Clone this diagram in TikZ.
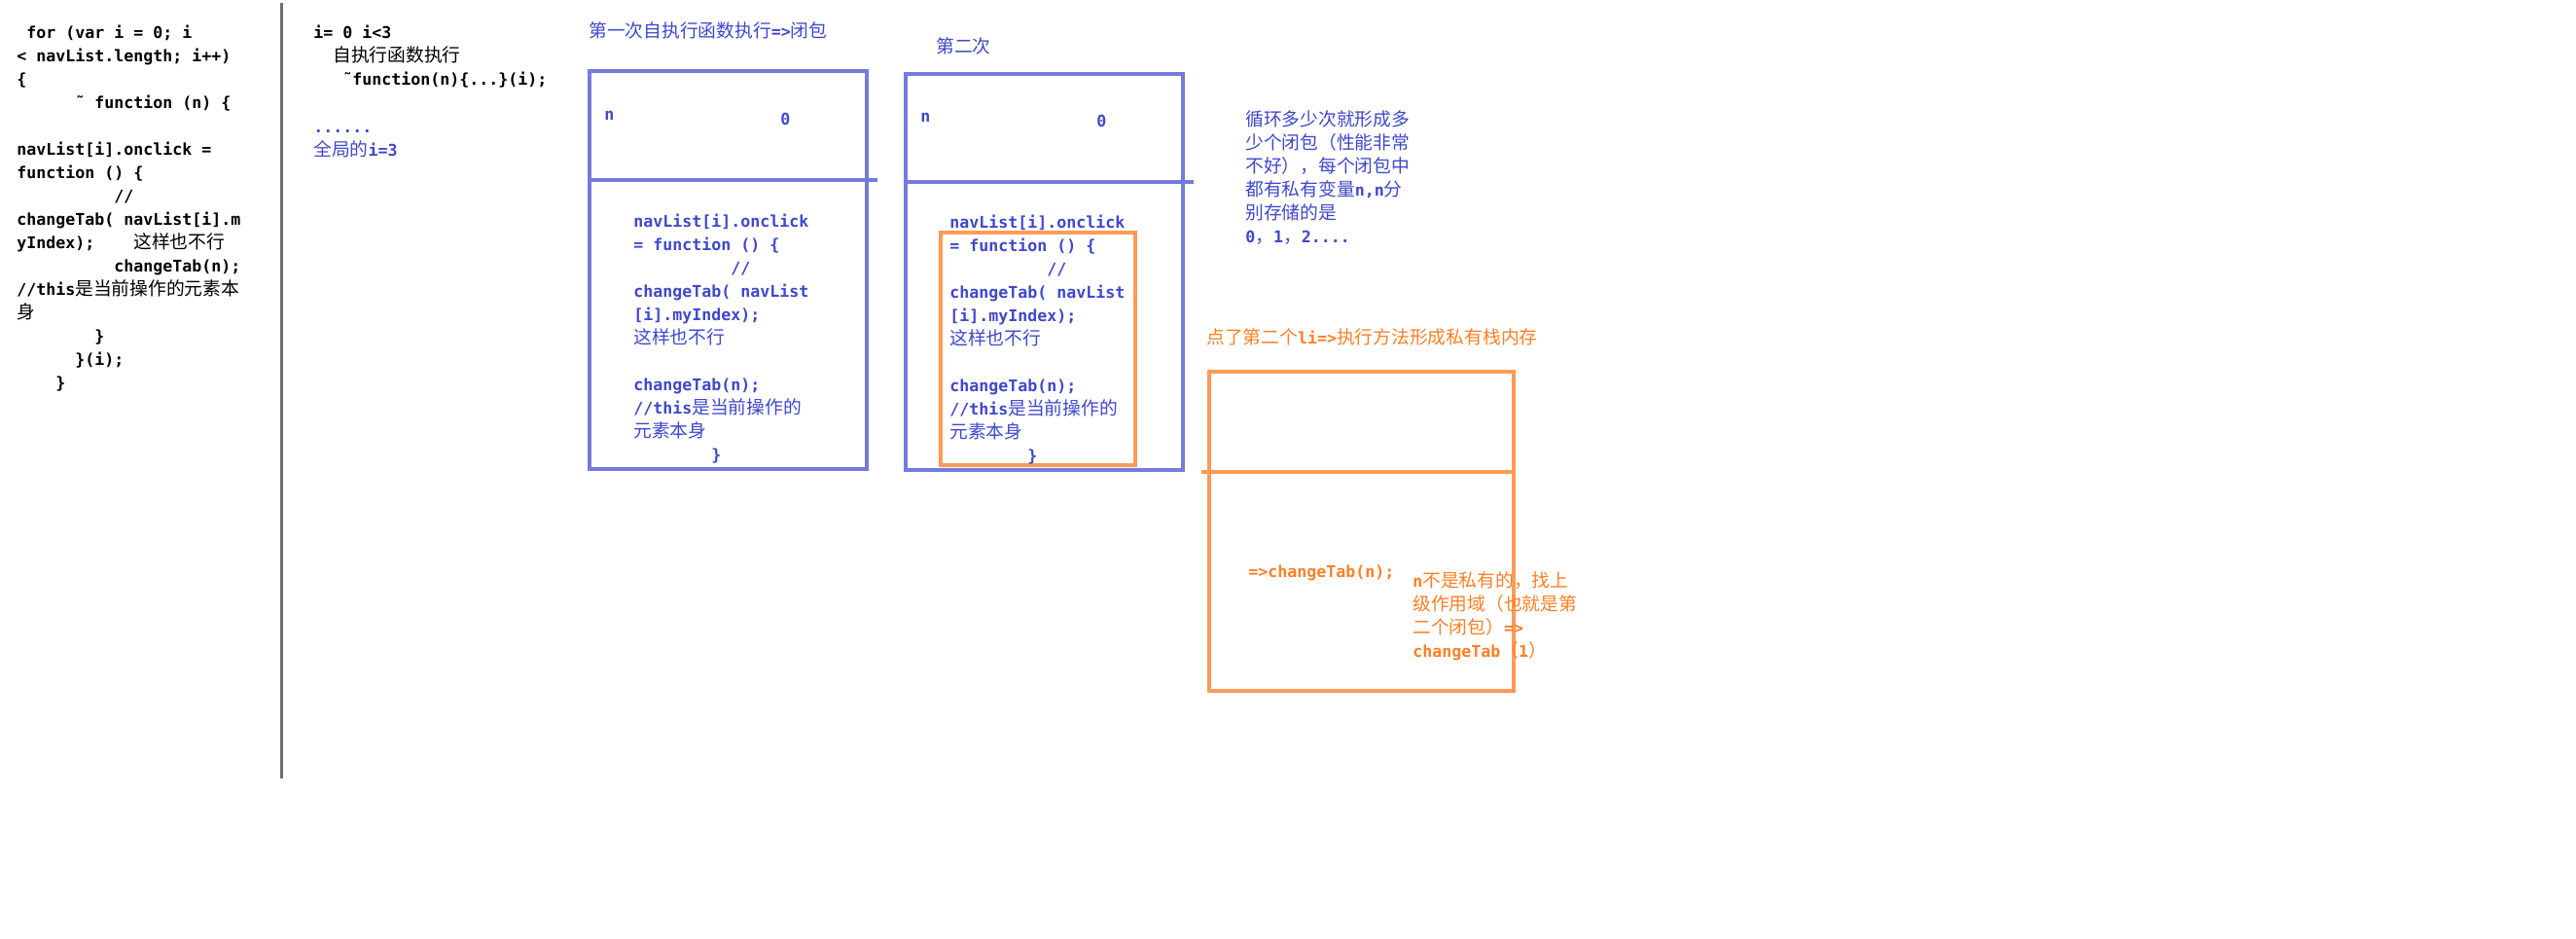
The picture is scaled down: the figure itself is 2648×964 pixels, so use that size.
\documentclass[tikz,border=0pt]{standalone}
\usepackage{fontspec}
\newfontfamily\mono{DejaVu Sans Mono}
\newfontfamily\cjk{Noto Sans CJK SC}[Scale=1.13]
\newcommand\zh[1]{{\cjk\mdseries #1}}
\newlength\cw
\setlength\cw{4.997pt}
\newcommand\ind[1]{\hspace*{#1\cw}}
\newcommand\fst{\rule{0pt}{8pt}}
\definecolor{pblue}{HTML}{3F48CC}
\definecolor{porange}{HTML}{FF7F27}
\definecolor{vgray}{HTML}{6E6E6E}
\tikzset{
  txt/.style={anchor=north west, inner sep=0pt, align=left,
    font=\mono\bfseries\fontsize{8.3}{12}\selectfont},
  one/.style={anchor=base west, inner sep=0pt,
    font=\mono\bfseries\fontsize{8.3}{12}\selectfont},
  blk/.style={txt, text=black},
  blu/.style={txt, text=pblue},
  org/.style={txt, text=porange},
  bbox/.style={draw=pblue!72, line width=1.6pt},
  obox/.style={draw=porange!78, line width=1.6pt},
}
\begin{document}
\begin{tikzpicture}[x=0.5pt,y=-0.5pt]
\fill[white] (0,0) rectangle (2648,964);
\path[use as bounding box] (0,0) rectangle (2648,964);

% separator
\draw[vgray, line width=1.5pt] (289,3) -- (289,800);

% left code
\node[blk] (code) at (17,23) {\fst\ind{1}for (var i = 0; i\\
< navList.length; i++)\\
\{\\
\ind{6}˜ function (n) \{\\
\mbox{}\\
navList[i].onclick =\\
function () \{\\
\ind{10}//\\
changeTab( navList[i].m\\
yIndex);\ind{4}\zh{这样也不行}\\
\ind{10}changeTab(n);\\
//this\zh{是当前操作的元素本}\\
\zh{身}\\
\ind{8}\}\\
\ind{6}\}(i);\\
\ind{4}\}};

% middle notes
\node[blk] (mid) at (322,23) {\fst i= 0 i<3\\
\ind{2}\zh{自执行函数执行}\\
\ind{3}˜function(n)\{...\}(i);};
\node[blu] (glob) at (322,120) {\fst......\\
\zh{全局的}i=3};

% box 1
\node[blu] (t1) at (605,22) {\fst\zh{第一次自执行函数执行}=>\zh{闭包}};
\draw[bbox] (606,73) rectangle (891,482);
\draw[bbox] (606,185) -- (902,185);
\node[one, text=pblue] (n1) at (621,123) {n};
\node[one, text=pblue] (v1) at (802,128) {0};
\node[blu] (c1) at (651,217) {\fst navList[i].onclick\\
= function () \{\\
\ind{10}//\\
changeTab( navList\\
{[}i].myIndex);\\
\zh{这样也不行}\\
\mbox{}\\
changeTab(n);\\
//this\zh{是当前操作的}\\
\zh{元素本身}\\
\ind{8}\}};

% box 2
\node[blu] (t2) at (962,38) {\fst\zh{第二次}};
\draw[bbox] (931,76) rectangle (1216,483);
\draw[bbox] (931,187) -- (1227,187);
\node[one, text=pblue] (n2) at (946,125) {n};
\node[one, text=pblue] (v2) at (1127,130) {0};
\draw[obox] (967,239) rectangle (1167,478);
\node[blu] (c2) at (976,218) {\fst navList[i].onclick\\
= function () \{\\
\ind{10}//\\
changeTab( navList\\
{[}i].myIndex);\\
\zh{这样也不行}\\
\mbox{}\\
changeTab(n);\\
//this\zh{是当前操作的}\\
\zh{元素本身}\\
\ind{8}\}};

% right note
\node[blu] (note) at (1280,113) {\fst\zh{循环多少次就形成多}\\
\zh{少个闭包（性能非常}\\
\zh{不好），每个闭包中}\\
\zh{都有私有变量}n,n\zh{分}\\
\zh{别存储的是}\\
0\zh{，}1\zh{，}2....};

% box 3
\node[org] (t3) at (1240,337) {\fst\zh{点了第二个}li=>\zh{执行方法形成私有栈内存}};
\draw[obox] (1243,382) rectangle (1556,710);
\draw[obox] (1235,485) -- (1556,485);
\node[org] (call) at (1283,577) {\fst=>changeTab(n);};
\node[org] (expl) at (1452,587) {\fst n\zh{不是私有的，找上}\\
\zh{级作用域（也就是第}\\
\zh{二个闭包）}=>\\
changeTab\zh{（}1\zh{）}};
\end{tikzpicture}
\end{document}
